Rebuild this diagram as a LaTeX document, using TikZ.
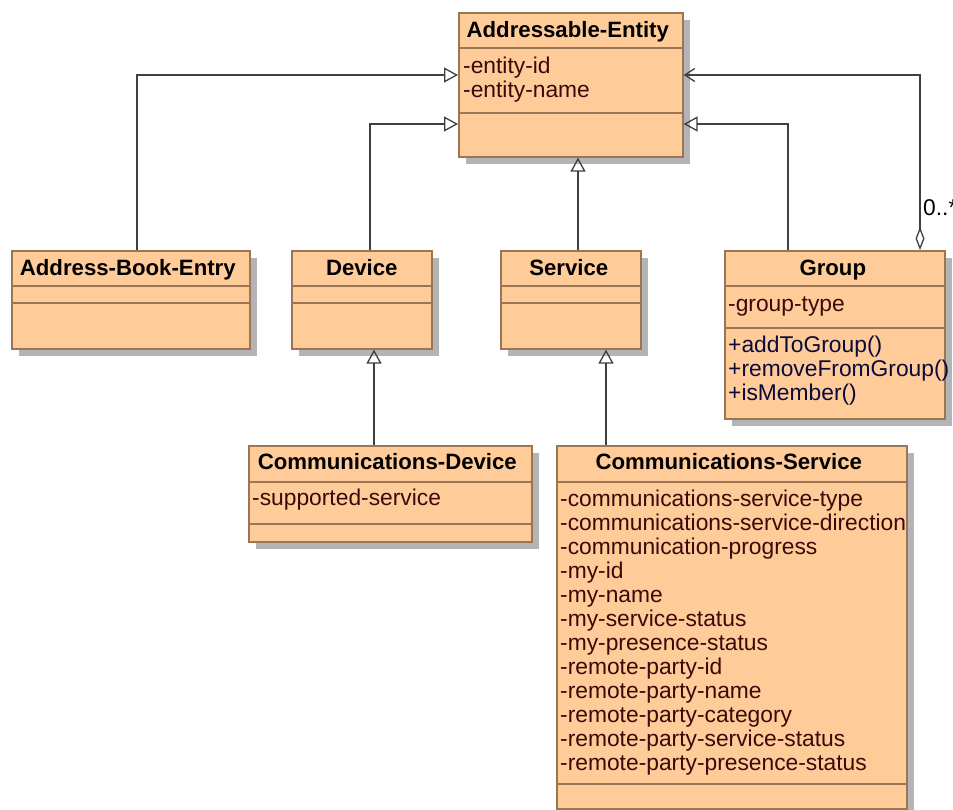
\documentclass[tikz,border=0pt]{standalone}
\usepackage{fontspec}
\setmainfont{Liberation Sans}
\usetikzlibrary{arrows.meta,shadows,calc}
\definecolor{boxfill}{HTML}{FFCC99}
\definecolor{boxline}{HTML}{9A7655}
\definecolor{shade}{HTML}{B4B4B4}
\definecolor{attrc}{HTML}{3A0A0A}
\definecolor{opc}{HTML}{0A0A3A}
\definecolor{wire}{HTML}{404040}
\begin{document}
\begin{tikzpicture}[x=1pt,y=-1pt,
  umlbox/.style={draw=boxline, line width=1.6pt, fill=boxfill, inner sep=0pt, anchor=north west,
    drop shadow={shadow xshift=7pt, shadow yshift=-7pt, fill=shade, opacity=1}},
  sepline/.style={draw=boxline, line width=1.6pt},
  hdr/.style={font=\fontsize{22.2}{24}\selectfont\bfseries, text=black, inner sep=0pt, anchor=base},
  attr/.style={font=\fontsize{22.8}{24}\selectfont, text=attrc, inner sep=0pt, anchor=base west},
  oper/.style={font=\fontsize{22.8}{24}\selectfont, text=opc, inner sep=0pt, anchor=base west},
  gen/.style={draw=wire, line width=1.3pt, -{Triangle[open, length=14pt, width=15pt]}},
  agg/.style={draw=wire, line width=1.3pt, {Diamond[open, length=23pt, width=9pt]}-{Straight Barb[length=10pt, width=13pt]}},
  mult/.style={font=\fontsize{22.8}{24}\selectfont, text=black, inner sep=0pt, anchor=base west}]
\useasboundingbox (0,0) rectangle (953,809);
\fill[white] (0,0) rectangle (953,809);

% boxes
\node[umlbox, minimum width=224pt, minimum height=144pt] (ae) at (458,12) {};
\node[umlbox, minimum width=238pt, minimum height=98pt] (abe) at (11,250) {};
\node[umlbox, minimum width=140pt, minimum height=98pt] (dev) at (291,250) {};
\node[umlbox, minimum width=140pt, minimum height=98pt] (srv) at (500,250) {};
\node[umlbox, minimum width=220pt, minimum height=168pt] (grp) at (724,250) {};
\node[umlbox, minimum width=283pt, minimum height=96pt] (cd) at (248,445) {};
\node[umlbox, minimum width=350pt, minimum height=363pt] (cs) at (556,445) {};

% separators
\foreach \b/\d in {ae/36, ae/101, abe/36, abe/53, dev/36, dev/53, srv/36, srv/53, grp/36, grp/78, cd/37, cd/79, cs/37, cs/339}
  \draw[sepline] ($(\b.north west)+(0,\d)$) -- ($(\b.north east)+(0,\d)$);

% headers
\node[hdr] (ae-h) at ($(ae.north)+(-3,25)$) {Addressable-Entity};
\node[hdr] (abe-h) at ($(abe.north)+(-3,25)$) {Address-Book-Entry};
\node[hdr] (dev-h) at ($(dev.north)+(0,25)$) {Device};
\node[hdr] (srv-h) at ($(srv.north)+(-2,25)$) {Service};
\node[hdr] (grp-h) at ($(grp.north)+(-2,25)$) {Group};
\node[hdr] (cd-h) at ($(cd.north)+(-3,24)$) {Communications-Device};
\node[hdr] (cs-h) at ($(cs.north)+(-3,24)$) {Communications-Service};

% attributes
\node[attr] (ae-a1) at ($(ae.north west)+(5,61)$) {-entity-id};
\node[attr] (ae-a2) at ($(ae.north west)+(5,85)$) {-entity-name};
\node[attr] (grp-a1) at ($(grp.north west)+(4,61)$) {-group-type};
\node[oper] (grp-o1) at ($(grp.north west)+(4,102)$) {+addToGroup()};
\node[oper] (grp-o2) at ($(grp.north west)+(4,126)$) {+removeFromGroup()};
\node[oper] (grp-o3) at ($(grp.north west)+(4,150)$) {+isMember()};
\node[attr] (cd-a1) at ($(cd.north west)+(4,60)$) {-supported-service};
\foreach \t [count=\i from 0] in {-communications-service-type, -communications-service-direction, -communication-progress, -my-id, -my-name, -my-service-status, -my-presence-status, -remote-party-id, -remote-party-name, -remote-party-category, -remote-party-service-status, -remote-party-presence-status}
  \node[attr] (cs-a\i) at ($(cs.north west)+(4,61+24*\i)$) {\t};

% connectors
\draw[gen] ($(abe.north west)+(126,0)$) |- ($(ae.north west)+(0,63)$);
\draw[gen] ($(dev.north west)+(79,0)$) |- ($(ae.north west)+(0,112)$);
\draw[gen] ($(srv.north west)+(78,0)$) -- ($(ae.south west)+(120,0)$);
\draw[gen] ($(grp.north west)+(64,0)$) |- ($(ae.north east)+(0,112)$);
\draw[gen] ($(cd.north west)+(126,0)$) -- ($(dev.south west)+(83,0)$);
\draw[gen] ($(cs.north west)+(50,0)$) -- ($(srv.south west)+(106,0)$);
\draw[agg] ($(grp.north west)+(196,0)$) |- ($(ae.north east)+(0,63)$);
\node[mult] (m1) at ($(grp.north west)+(199,-35)$) {0..*};
\end{tikzpicture}
\end{document}
